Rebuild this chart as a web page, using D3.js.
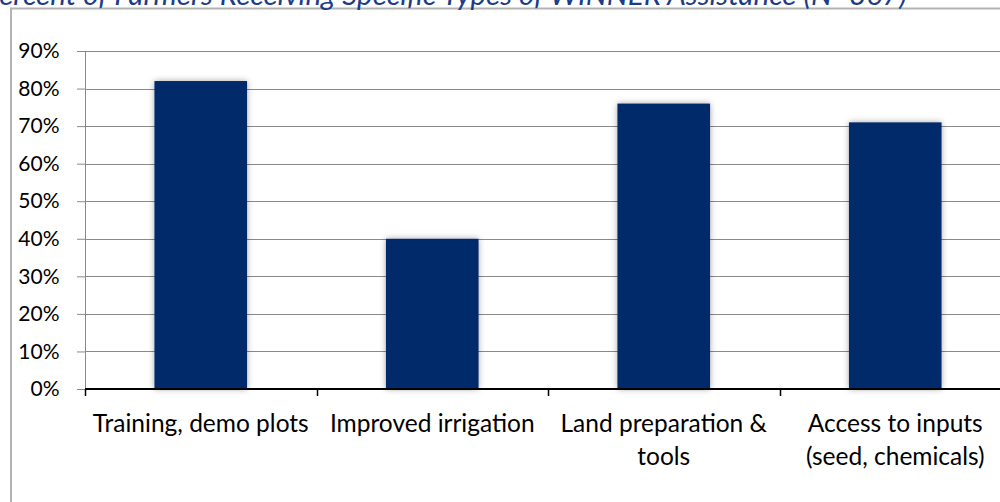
<!DOCTYPE html>
<html>
<head>
<meta charset="utf-8">
<script src="https://cdn.jsdelivr.net/npm/d3@7"></script>
<style>
  html, body { margin: 0; padding: 0; background: #fff; }
  svg { display: block; }
  text { font-family: "Lato", "Open Sans", sans-serif; }
</style>
</head>
<body>
<svg id="chart" width="1000" height="502"></svg>
<script>
// Assistance categories (each may wrap onto two lines)
const categories = [
  ["Training, demo plots"],
  ["Improved irrigation"],
  ["Land preparation &", "tools"],
  ["Access to inputs", "(seed, chemicals)"]
];
// Share of farmers receiving each type (%)
const shares = [82, 40, 76, 71];
// Y-axis ticks (%)
const yTicks = [0, 10, 20, 30, 40, 50, 60, 70, 80, 90];
const title = "Percent of Farmers Receiving Specific Types of WINNER Assistance (N=367)";

const svg = d3.select("#chart");
const margin = { left: 85, right: -11, top: 51, bottom: 113 };
const W = 1000, H = 502;
const plotW = W - margin.left - margin.right;
const plotH = H - margin.top - margin.bottom;

const defs = svg.append("defs");
const f = defs.append("filter").attr("id", "shadow")
  .attr("x", "-20%").attr("y", "-5%").attr("width", "140%").attr("height", "110%");
f.append("feDropShadow").attr("dx", 0).attr("dy", 0).attr("stdDeviation", 3)
  .attr("flood-color", "#000").attr("flood-opacity", 0.35);

// Chart frame
svg.append("rect")
  .attr("x", 11).attr("y", 8.5).attr("width", 1010).attr("height", 520)
  .attr("fill", "#fff").attr("stroke", "#b3b3b3").attr("stroke-width", 2);

// Title, anchored at its end so it runs off the left edge
svg.append("text")
  .attr("x", 907).attr("y", 4.5)
  .attr("text-anchor", "end")
  .attr("font-size", 29.6).attr("font-style", "italic")
  .attr("fill", "#1c3c86")
  .text(title);

const g = svg.append("g").attr("transform", `translate(${margin.left},${margin.top})`);

const x = d3.scaleBand().domain(d3.range(categories.length)).range([0, plotW])
  .paddingInner(0.6).paddingOuter(0.3);
const xOuter = d3.scaleBand().domain(d3.range(categories.length)).range([0, plotW]);
const y = d3.scaleLinear().domain([0, 90]).range([plotH, 0]);

// Horizontal gridlines
g.append("g").selectAll("line").data(yTicks.filter(d => d > 0)).join("line")
  .attr("x1", 0).attr("x2", plotW)
  .attr("y1", d => Math.round(y(d)) + 0.5).attr("y2", d => Math.round(y(d)) + 0.5)
  .attr("stroke", "#898989").attr("stroke-width", 1);

// Y axis
const yAxis = g.append("g")
  .call(d3.axisLeft(y).tickValues(yTicks).tickSize(8).tickPadding(17.5).tickFormat(d => d + "%"));
yAxis.select(".domain").attr("stroke", "#898989");
yAxis.selectAll(".tick line").attr("stroke", "#898989");
yAxis.selectAll(".tick text").attr("font-size", 21).attr("fill", "#000")
  .attr("font-family", "Lato, sans-serif");

// Bars
g.append("g").selectAll("rect").data(shares).join("rect")
  .attr("x", (d, i) => x(i)).attr("width", x.bandwidth())
  .attr("y", d => y(d)).attr("height", d => plotH - y(d))
  .attr("fill", "#00296b")
  .attr("filter", "url(#shadow)");

// Category axis with ticks at band boundaries
const xa = g.append("g").attr("transform", `translate(0,${plotH})`);
xa.append("line").attr("x1", 0).attr("x2", plotW).attr("y1", 0).attr("y2", 0)
  .attr("stroke", "#000").attr("stroke-width", 2);
xa.selectAll("line.tk").data(d3.range(categories.length + 1)).join("line")
  .attr("class", "tk")
  .attr("x1", i => Math.round(i * xOuter.step()) + 0.5)
  .attr("x2", i => Math.round(i * xOuter.step()) + 0.5)
  .attr("y1", 0).attr("y2", 7)
  .attr("stroke", "#000").attr("stroke-width", 1.5);

const labels = xa.selectAll("text.cat").data(categories).join("text")
  .attr("class", "cat")
  .attr("text-anchor", "middle")
  .attr("font-size", 24.5).attr("fill", "#000")
  .attr("transform", (d, i) => `translate(${xOuter(i) + xOuter.bandwidth() / 2},0)`);
labels.selectAll("tspan").data(d => d).join("tspan")
  .attr("x", 0).attr("y", (d, j) => 43 + j * 33).text(d => d);
</script>
</body>
</html>
